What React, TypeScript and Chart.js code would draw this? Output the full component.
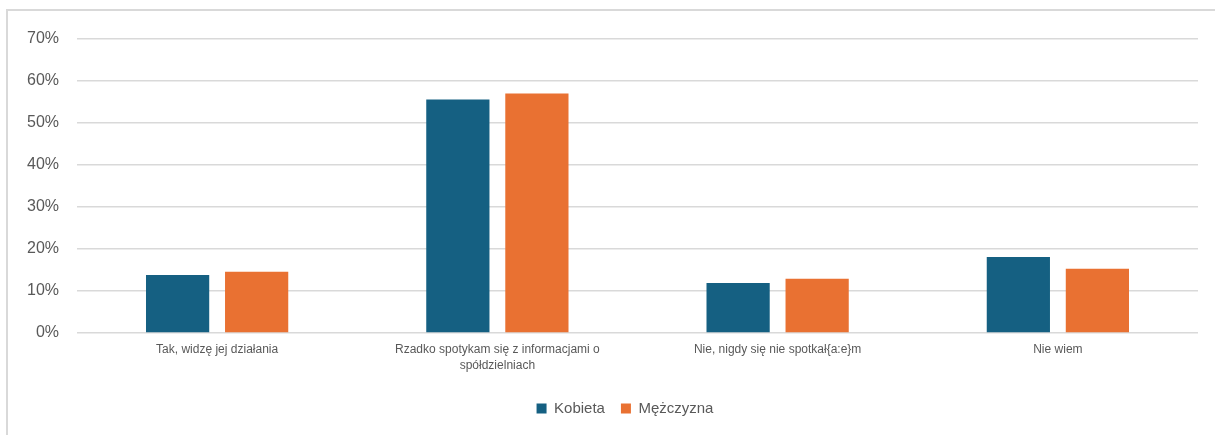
import React, { useEffect, useRef } from "react";
import { Chart, registerables } from "chart.js";

Chart.register(...registerables);

const categories: (string | string[])[] = [
  "Tak, widzę jej działania",
  ["Rzadko spotykam się z informacjami o", "spółdzielniach"],
  "Nie, nigdy się nie spotkał{a:e}m",
  "Nie wiem",
];
const kobieta = [13.8, 55.6, 11.9, 18.1];
const mezczyzna = [14.6, 57.0, 12.9, 15.3];
const seriesNames = ["Kobieta", "Mężczyzna"];
const seriesColors = ["#156082", "#E97132"];
const yMax = 70;
const yStep = 10;

const legendShift = {
  id: "legendShift",
  afterLayout(chart: any) {
    if (chart.legend) {
      chart.legend.left += 26;
      chart.legend.right += 26;
    }
  },
};

export default function App() {
  const ref = useRef<HTMLCanvasElement | null>(null);
  useEffect(() => {
    if (!ref.current) return;
    const font = "'Liberation Sans', Arial, sans-serif";
    const chart = new Chart(ref.current, {
      type: "bar",
      data: {
        labels: categories,
        datasets: [
          {
            label: seriesNames[0],
            data: kobieta,
            backgroundColor: seriesColors[0],
            categoryPercentage: 0.564,
            barPercentage: 0.8,
          },
          {
            label: seriesNames[1],
            data: mezczyzna,
            backgroundColor: seriesColors[1],
            categoryPercentage: 0.564,
            barPercentage: 0.8,
          },
        ],
      },
      plugins: [legendShift],
      options: {
        responsive: false,
        animation: false,
        layout: { padding: { left: 0, right: 17, top: 39, bottom: 9 } },
        plugins: {
          tooltip: { enabled: false },
          legend: {
            position: "bottom",
            labels: {
              color: "#595959",
              font: { family: font, size: 15 },
              boxWidth: 10,
              boxHeight: 10,
              padding: 16,
            },
          },
        },
        scales: {
          x: {
            grid: { display: false, drawTicks: false },
            border: { display: false },
            ticks: {
              color: "#595959",
              font: { family: font, size: 12, lineHeight: 1.33 },
              padding: 9,
              maxRotation: 0,
              autoSkip: false,
            },
            afterFit: (s: any) => {
              s.height = 52;
            },
          },
          y: {
            min: 0,
            max: yMax,
            grid: { color: "#d9d9d9", lineWidth: 1.5, drawTicks: false },
            border: { display: false },
            ticks: {
              stepSize: yStep,
              color: "#595959",
              font: { family: font, size: 16 },
              padding: 18,
              callback: (v: any) => v + "%",
            },
            afterFit: (s: any) => {
              s.width = 77;
            },
          },
        },
      },
    });
    return () => chart.destroy();
  }, []);
  return (
    <div style={{ position: "absolute", left: 0, top: 0, width: 1215, height: 435, overflow: "hidden", background: "#fff" }}>
      <div
        style={{
          position: "absolute",
          left: 6,
          top: 9,
          width: 1230,
          height: 450,
          border: "2px solid #d9d9d9",
        }}
      />
      <canvas ref={ref} width={1215} height={435} style={{ position: "absolute", left: 0, top: 0 }} />
    </div>
  );
}
